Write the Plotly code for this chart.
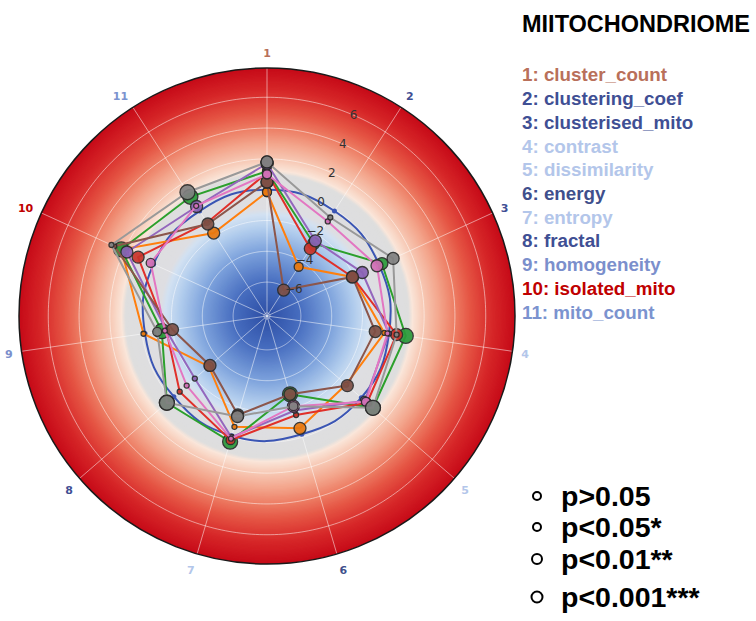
import numpy as np
import plotly.graph_objects as go

# ---------------- data ----------------
features = ["cluster_count", "clustering_coef", "clusterised_mito", "contrast",
            "dissimilarity", "energy", "entropy", "fractal", "homogeneity",
            "isolated_mito", "mito_count"]
feature_colors = ["#b9705a", "#3f4f94", "#3f4f94", "#b3c6ea", "#b3c6ea", "#3f4f8c",
                  "#b3c6ea", "#3f4f94", "#7b8fcc", "#c00000", "#7b93cf"]

# z-score profiles per condition (one value per feature, in feature order)
blue_vals   = [0.0, -0.1, -0.2, -0.2, -0.1, -0.2, -0.1, -0.2, -0.2, -0.1, -0.1]
orange_vals = [-0.15, -4.4, -2.1, -0.5, -1.4, -0.6, -0.7, -3.2, -0.1, 2.2, -1.8]
green_vals  = [1.2, -2.6, 0.0, 0.9, 0.9, -2.9, 0.3, 0.4, -1.3, 2.2, 1.0]
red_vals    = [1.1, -3.0, -2.1, 0.3, 0.4, -1.5, 0.2, -0.7, -1.6, 1.0, -1.0]
purple_vals = [1.7, -2.4, -1.4, -0.2, 0.2, -1.8, 0.0, -2.0, -1.6, 1.8, 0.25]
brown_vals  = [0.5, -6.2, -2.1, -1.1, -1.3, -2.9, -1.5, -3.3, -2.0, 2.7, -1.1]
pink_vals   = [1.0, -0.9, -0.35, -0.3, 0.3, -2.1, 0.1, -1.3, -1.5, 0.1, 0.3]
gray_vals   = [1.8, -0.6, 0.8, 0.3, 0.9, -2.1, -1.4, 0.4, -1.0, 2.9, 1.35]

# significance level per point: 0 p>0.05, 1 p<0.05, 2 p<0.01, 3 p<0.001
blue_sig   = [0] * 11
orange_sig = [1, 1, 1, 0, 0, 2, 0, 1, 0, 1, 2]
green_sig  = [1, 2, 2, 3, 3, 3, 3, 3, 3, 3, 3]
red_sig    = [1, 2, 2, 2, 1, 0, 1, 0, 0, 2, 0]
purple_sig = [2, 2, 2, 0, 1, 0, 0, 0, 0, 2, 2]
brown_sig  = [2, 2, 2, 2, 2, 2, 2, 2, 2, 0, 2]
pink_sig   = [1, 0, 2, 0, 1, 2, 0, 0, 0, 1, 0]
gray_sig   = [2, 0, 2, 0, 3, 1, 2, 3, 1, 0, 3]

radial_ticks = [-6, -4, -2, 0, 2, 4, 6]
pvalue_labels = ["p>0.05", "p<0.05*", "p<0.01**", "p<0.001***"]

# ---------------- layout constants ----------------
W, H = 756, 621
R_MIN, R_MAX = -8.2, 7.9
n = len(features)
angles = [i * 360.0 / n for i in range(n)]
sig_size = [5, 9, 12, 15]

# (name, line colour, marker fill, values, significance)
series = [
    ("blue",   "#3a55b4", "#3a55b4", blue_vals,   blue_sig),
    ("orange", "#ff7f0e", "#e8780f", orange_vals, orange_sig),
    ("green",  "#2ca02c", "#2a9a3a", green_vals,  green_sig),
    ("red",    "#e0302a", "#c8342a", red_vals,    red_sig),
    ("purple", "#9467bd", "#8a62b5", purple_vals, purple_sig),
    ("brown",  "#8c564b", "#7e4f45", brown_vals,  brown_sig),
    ("pink",   "#e377c2", "#d070b5", pink_vals,   pink_sig),
    ("gray",   "#999999", "#808080", gray_vals,   gray_sig),
]

fig = go.Figure()

# ---------------- radial colour background ----------------
stops = [
    (-8.2, (45, 78, 165)),
    (-6.0, (72, 110, 192)),
    (-4.0, (125, 162, 220)),
    (-2.5, (178, 205, 237)),
    (-1.6, (210, 225, 242)),
    (-1.25, (222, 222, 226)),
    (1.0, (222, 222, 222)),
    (1.25, (250, 230, 218)),
    (2.0, (247, 200, 180)),
    (3.0, (243, 165, 140)),
    (4.0, (237, 125, 100)),
    (5.0, (229, 85, 68)),
    (6.5, (214, 38, 40)),
    (7.9, (198, 10, 24)),
]
sv = np.array([s[0] for s in stops])
sc = np.array([s[1] for s in stops], dtype=float)
edges = np.linspace(R_MIN, R_MAX, 201)
mids = 0.5 * (edges[:-1] + edges[1:])
ring_colors = []
for m in mids:
    rgb = [np.interp(m, sv, sc[:, k]) for k in range(3)]
    ring_colors.append("rgb(%d,%d,%d)" % tuple(int(round(c)) for c in rgb))
# each ring overlaps the next one, which is painted after it, so no seams show
ring_depth = np.minimum(np.diff(edges) * 2.5, R_MAX - edges[:-1])
fig.add_trace(go.Barpolar(
    theta=[180] * len(mids), width=[360.5] * len(mids),
    base=edges[:-1], r=ring_depth,
    marker=dict(color=ring_colors, line=dict(width=0)),
    hoverinfo="skip", showlegend=False,
))

# ---------------- grid ----------------
circle_theta = np.linspace(0, 360, 361)
for rv in [-8] + radial_ticks:
    fig.add_trace(go.Scatterpolar(
        r=[rv] * len(circle_theta), theta=circle_theta, mode="lines",
        line=dict(color="rgba(255,255,255,0.5)", width=1),
        hoverinfo="skip", showlegend=False))
for a in angles:
    fig.add_trace(go.Scatterpolar(
        r=[R_MIN, R_MAX], theta=[a, a], mode="lines",
        line=dict(color="rgba(255,255,255,0.5)", width=1),
        hoverinfo="skip", showlegend=False))

# ---------------- condition profiles ----------------
for name, color, fill, vals, sig in series:
    th = angles + [angles[0]]
    rr = list(vals) + [vals[0]]
    sizes = [sig_size[s] for s in sig] + [sig_size[sig[0]]]
    if name == "blue":
        fig.add_trace(go.Scatterpolar(
            r=rr, theta=th, mode="lines+markers", name=name,
            line=dict(color=color, width=2, shape="spline", smoothing=1.3),
            marker=dict(size=5, color=color),
            showlegend=False))
    else:
        fig.add_trace(go.Scatterpolar(
            r=rr, theta=th, mode="lines+markers", name=name,
            line=dict(color=color, width=2),
            marker=dict(size=sizes, color=fill, opacity=0.92,
                        line=dict(color="#2b2b2b", width=1.3)),
            showlegend=False))

tick_text = ["<b><span style='color:%s'>%d</span></b>" % (c, i + 1)
             for i, c in enumerate(feature_colors)]

cx, cy, rad = 267, 316, 248
fig.update_layout(
    width=W, height=H,
    margin=dict(l=0, r=0, t=0, b=0),
    paper_bgcolor="white",
    showlegend=False,
    polar=dict(
        domain=dict(x=[(cx - rad) / W, (cx + rad) / W],
                    y=[(H - cy - rad) / H, (H - cy + rad) / H]),
        bgcolor="white",
        barmode="overlay",
        angularaxis=dict(
            type="linear", thetaunit="degrees", direction="clockwise",
            rotation=90, tickmode="array", tickvals=angles, ticktext=tick_text,
            showgrid=False, showline=True, linecolor="#1a1a1a", linewidth=1.5,
            ticks="outside", ticklen=6, tickcolor="rgba(0,0,0,0)",
            tickfont=dict(family="DejaVu Sans", size=11),
        ),
        radialaxis=dict(
            range=[R_MIN, R_MAX], tickmode="array", tickvals=radial_ticks,
            ticktext=[str(t).replace("-", "\u2212") for t in radial_ticks],
            showgrid=False, showline=False, ticks="", angle=69.5,
            tickangle=69.5, side="clockwise",
            tickfont=dict(family="DejaVu Sans", size=12, color="#333333"),
        ),
    ),
)

# ---------------- feature legend ----------------
ann = [dict(x=520 / W, y=1 - 24 / H, xref="paper", yref="paper",
            xanchor="left", yanchor="middle", showarrow=False,
            text="<b>MIITOCHONDRIOME</b>",
            font=dict(family="Liberation Sans", size=23.5, color="black"))]
for i, (f, c) in enumerate(zip(features, feature_colors)):
    ann.append(dict(x=520 / W, y=1 - (75 + 23.7 * i) / H, xref="paper", yref="paper",
                    xanchor="left", yanchor="middle", showarrow=False,
                    text="<b>%d: %s</b>" % (i + 1, f),
                    font=dict(family="Liberation Sans", size=18.8, color=c)))

# ---------------- p-value legend ----------------
p_y = [496, 527, 559, 597]
p_r = [4, 4, 5, 5.5]
shapes = []
for lab, yy, rr in zip(pvalue_labels, p_y, p_r):
    shapes.append(dict(type="circle", xref="paper", yref="paper",
                       x0=(537 - rr) / W, x1=(537 + rr) / W,
                       y0=1 - (yy + rr) / H, y1=1 - (yy - rr) / H,
                       line=dict(color="black", width=2)))
    ann.append(dict(x=559 / W, y=1 - yy / H, xref="paper", yref="paper",
                    xanchor="left", yanchor="middle", showarrow=False,
                    text="<b>%s</b>" % lab,
                    font=dict(family="Liberation Sans", size=28.5, color="black")))
fig.update_layout(annotations=ann, shapes=shapes)

fig.write_html("out.html")
